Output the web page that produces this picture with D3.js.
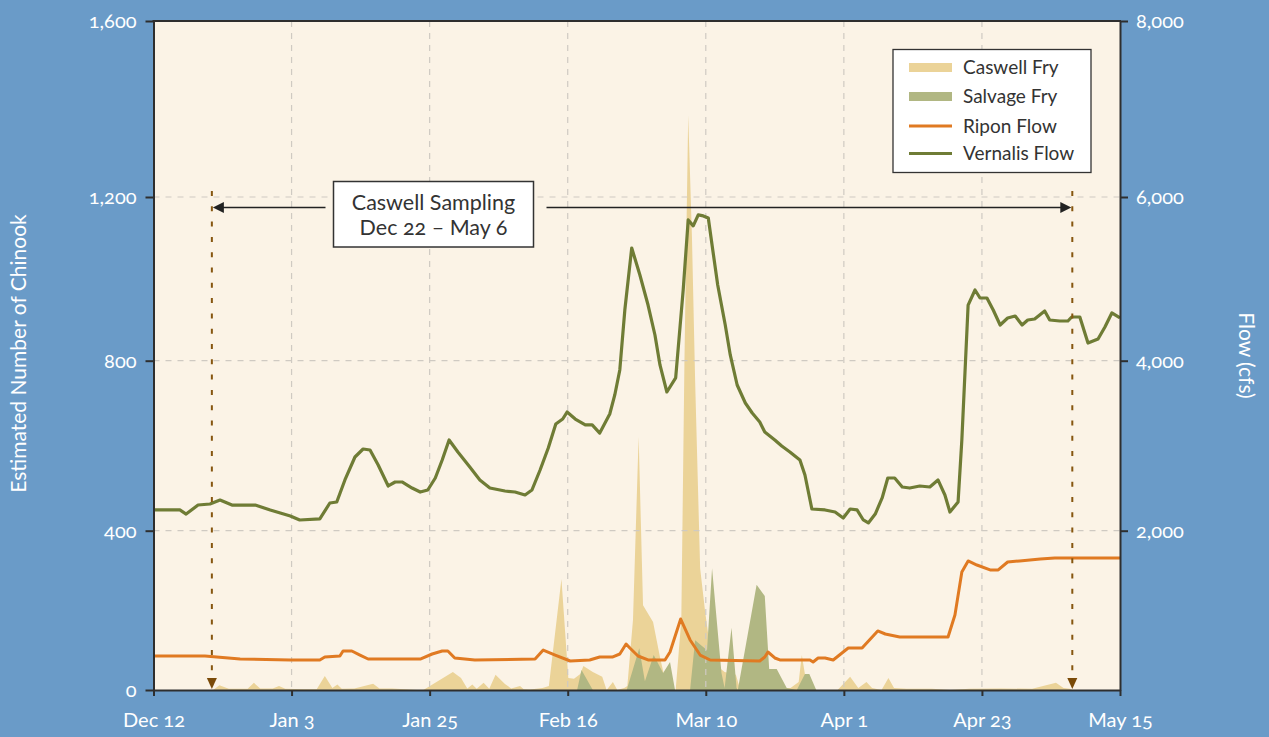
<!DOCTYPE html>
<html>
<head>
<meta charset="utf-8">
<script src="https://cdn.jsdelivr.net/npm/d3@7"></script>
<style>
  body { margin: 0; background: #6a9bc8; }
  svg { display: block; }
  text { font-family: "Lato", "Open Sans", sans-serif; font-variant-numeric: oldstyle-nums; }
</style>
</head>
<body>
<svg id="chart" width="1269" height="737"></svg>
<script>
// ---- data (days counted from Dec 12) ----
const tickDays   = [0, 22, 44, 66, 88, 110, 132, 154];
const tickLabels = ["Dec 12", "Jan 3", "Jan 25", "Feb 16", "Mar 10", "Apr 1", "Apr 23", "May 15"];
const countTicks = [0, 400, 800, 1200, 1600];
const flowTicks  = [0, 2000, 4000, 6000, 8000];

// Caswell fry (estimated number of Chinook)
const caswellDay = [9.5, 10.5, 12, 15, 16, 17, 19, 20, 21, 24, 26, 27.3, 28.5, 29.3, 30, 32, 35, 36, 38, 40, 42, 43,
  47.7, 49, 50, 50.8, 51.5, 52.6, 53.5, 54.5, 56, 57, 58.4, 59, 60, 62, 63, 65, 66.1, 67, 68, 68.5, 70, 71.5, 72.2,
  73.2, 73.9, 75, 75.5, 76.4, 77.3, 78, 79.6, 80.7, 81.4, 82.7, 83.2, 84.1, 84.6, 85.2, 85.8, 86.3, 87.1, 87.9,
  88.8, 89.8, 91, 92.8, 93.5, 94.5, 101.5, 102.8, 103.3, 104, 104.6, 109, 111, 112.3, 113.6, 114.5, 116, 117.1,
  118, 120, 124, 127, 130, 135, 140, 143.8, 145, 146, 146.4];
const caswellFry = [0, 12, 3, 3, 18, 4, 4, 10, 3, 2, 2, 35, 5, 14, 3, 4, 16, 4, 4, 2, 0, 0,
  45, 30, 4, 14, 3, 18, 3, 38, 15, 4, 10, 2, 1, 5, 10, 279, 30, 28, 40, 60, 45, 33, 0,
  20, 0, 5, 10, 176, 621, 213, 171, 83, 33, 0, 0, 176, 800, 1386, 1100, 754, 306, 196,
  93, 60, 45, 38, 0, 5, 5, 20, 88, 20, 0, 0, 33, 5, 20, 5, 0, 30,
  5, 3, 3, 0, 3, 4, 3, 18, 5, 3, 0];

// Salvage fry (estimated number of Chinook)
const salvageDay = [67.5, 68.2, 70, 75.4, 77.4, 78.3, 79.7, 81.2, 82.3, 83.1, 85.5, 86.3, 88.2, 89, 90.5, 91,
  92.1, 92.9, 93.1, 96.1, 97.4, 98.1, 99.3, 100.9, 102.5, 103.8, 104.5, 105.6];
const salvageFry = [0, 50, 0, 0, 105, 22, 88, 43, 70, 0, 0, 125, 100, 306, 43, 5,
  156, 5, 0, 264, 236, 53, 53, 5, 0, 40, 40, 0];

// Ripon flow (cfs)
const riponDay = [0, 8.2, 13.8, 21.8, 26.5, 27.3, 29.7, 30.2, 31.6, 32.9, 34.2, 42.5, 44.4, 46, 46.9, 48, 51.2,
  60.8, 62.1, 64, 66.4, 69.5, 71.1, 73.1, 74.3, 75.3, 75.9, 77.2, 78.8, 81.5, 82.3, 84, 85.5, 87.1, 88.7,
  96.6, 97.4, 97.9, 99, 99.8, 104.6, 105.1, 105.9, 107, 108.3, 110.7, 112.9, 115.4, 116.6, 118.9, 126.6,
  127.7, 128.8, 129.8, 131.2, 133.3, 134.6, 136.1, 138, 141.3, 143.6, 154];
const riponFlow = [427, 427, 389, 377, 377, 414, 427, 490, 490, 439, 389, 389, 452, 490, 490, 402, 377,
  389, 502, 439, 364, 377, 414, 414, 452, 578, 527, 427, 377, 377, 477, 891, 628, 439, 377,
  364, 414, 477, 402, 377, 377, 352, 402, 402, 377, 527, 527, 741, 703, 665, 665,
  942, 1481, 1620, 1569, 1507, 1507, 1607, 1620, 1645, 1657, 1657];

// Vernalis flow (cfs)
const vernalisDay = [0, 4.2, 5.2, 7.1, 9, 10.6, 12.5, 16.2, 18.6, 21.8, 23.3, 26.5, 28.1, 29.2, 30.5, 32.1, 33.4,
  34.5, 35.8, 37.4, 38.5, 39.6, 41.2, 42.5, 43.7, 44.9, 46, 47.1, 48.5, 50.4, 52, 53.6, 56, 57.6, 59.2, 60.3,
  61.6, 62.9, 64.1, 65.2, 65.9, 67.2, 68.8, 69.9, 71.1, 72.7, 73.5, 74.3, 75.1, 76.2, 77.5, 78.8, 79.9, 80.7,
  81.8, 83.2, 84.4, 85.2, 86, 86.8, 87.6, 88.4, 89, 89.9, 91.1, 91.9, 93, 94.3, 95.4, 96.6, 97.4, 99, 100.1,
  101.4, 103, 103.8, 104.9, 107, 108.6, 109.9, 111, 112.1, 113.1, 113.9, 115, 116.1, 117, 118.1, 119.3, 120.5,
  122.1, 123.7, 125, 126.1, 126.9, 128.2, 128.8, 129.8, 130.9, 131.7, 132.8, 133.8, 134.9, 136.1, 137.3,
  138.4, 139.3, 140.4, 142, 142.8, 144.4, 145.7, 146.3, 147.6, 148.9, 150.5, 151.6, 152.7, 154];
const vernalisFlow = [2244, 2244, 2196, 2302, 2314, 2361, 2302, 2302, 2244, 2173, 2126, 2138, 2326, 2338, 2597, 2867, 2961,
  2949, 2773, 2526, 2573, 2573, 2502, 2455, 2479, 2620, 2832, 3067, 2926, 2749, 2597, 2502, 2467, 2455, 2420, 2479,
  2714, 2973, 3255, 3314, 3396, 3314, 3244, 3244, 3149, 3373, 3597, 3891, 4619, 5377, 5047, 4680, 4314, 3950,
  3632, 3797, 4865, 5720, 5647, 5781, 5769, 5744, 5414, 4925, 4436, 4070, 3714, 3502, 3385, 3279, 3161, 3067, 2996,
  2926, 2832, 2655, 2255, 2244, 2220, 2149, 2255, 2244, 2126, 2091, 2196, 2385, 2620, 2620, 2514, 2502,
  2526, 2514, 2597, 2420, 2220, 2338, 3067, 4680, 4864, 4766, 4766, 4619, 4436, 4522, 4546,
  4436, 4497, 4509, 4607, 4497, 4485, 4485, 4534, 4534, 4216, 4265, 4412, 4583, 4522];

// Caswell sampling window (days from Dec 12)
const samplingDays  = [9.3, 146.4];
const samplingLabel = ["Caswell Sampling", "Dec 22 \u2013 May 6"];

const seriesNames  = ["Caswell Fry", "Salvage Fry", "Ripon Flow", "Vernalis Flow"];
const seriesColors = ["#ebd398", "#b1b783", "#e07a22", "#6f7c35"];

// ---- layout ----
const svg = d3.select("#chart");
const plot = { left: 153.5, right: 1120, top: 21, bottom: 690 };
const textColor = "#ffffff";

const x = d3.scaleLinear().domain([0, 154]).range([plot.left, plot.right]);
const yCount = d3.scaleLinear().domain(countTicks).range([690, 530.7, 360.7, 197, 21]);
const yFlow  = d3.scaleLinear().domain(flowTicks).range([690, 530.7, 360.7, 197, 21]);

svg.append("rect")
  .attr("x", plot.left).attr("y", plot.top)
  .attr("width", plot.right - plot.left).attr("height", plot.bottom - plot.top)
  .attr("fill", "#fbf3e6");

// fry areas
const zip = (a, b) => a.map((d, i) => [d, b[i]]);
const area = d3.area().x(d => x(d[0])).y0(yCount(0)).y1(d => yCount(d[1]));
svg.append("path").datum(zip(caswellDay, caswellFry)).attr("d", area).attr("fill", seriesColors[0]);
svg.append("path").datum(zip(salvageDay, salvageFry)).attr("d", area).attr("fill", seriesColors[1]);

// grid
const grid = svg.append("g").attr("stroke", "#cfcac2").attr("stroke-width", 1.2).attr("stroke-dasharray", "6,6");
grid.selectAll("line.v").data(tickDays.slice(1, -1)).join("line")
  .attr("x1", d => x(d)).attr("x2", d => x(d)).attr("y1", plot.top).attr("y2", plot.bottom);
grid.selectAll("line.h").data(countTicks.slice(1, -1)).join("line")
  .attr("x1", plot.left).attr("x2", plot.right).attr("y1", d => yCount(d)).attr("y2", d => yCount(d));

// flow lines
const flowLine = d3.line().x(d => x(d[0])).y(d => yFlow(d[1]));
svg.append("path").datum(zip(riponDay, riponFlow)).attr("d", flowLine)
  .attr("fill", "none").attr("stroke", seriesColors[2]).attr("stroke-width", 3).attr("stroke-linejoin", "round");
svg.append("path").datum(zip(vernalisDay, vernalisFlow)).attr("d", flowLine)
  .attr("fill", "none").attr("stroke", seriesColors[3]).attr("stroke-width", 3.2).attr("stroke-linejoin", "round");

// sampling window markers
const brown = "#86560f";
samplingDays.forEach(d => {
  const px = x(d);
  svg.append("line").attr("x1", px).attr("x2", px).attr("y1", 191).attr("y2", 676)
    .attr("stroke", brown).attr("stroke-width", 2).attr("stroke-dasharray", "5,10.3");
  svg.append("path").attr("d", `M${px - 5},678 L${px + 5},678 L${px},689 Z`).attr("fill", "#7a4a08");
});

const arrowY = 207.5;
const xa = x(samplingDays[0]), xb = x(samplingDays[1]);
const boxX0 = 333.5, boxX1 = 533.5;
svg.append("line").attr("x1", xa + 10).attr("x2", boxX0 - 8).attr("y1", arrowY).attr("y2", arrowY)
  .attr("stroke", "#222").attr("stroke-width", 1.5);
svg.append("line").attr("x1", boxX1 + 13).attr("x2", xb - 10).attr("y1", arrowY).attr("y2", arrowY)
  .attr("stroke", "#222").attr("stroke-width", 1.5);
svg.append("path").attr("d", `M${xa + 1},${arrowY} L${xa + 12},${arrowY - 5.5} L${xa + 12},${arrowY + 5.5} Z`).attr("fill", "#222");
svg.append("path").attr("d", `M${xb - 1},${arrowY} L${xb - 12},${arrowY - 5.5} L${xb - 12},${arrowY + 5.5} Z`).attr("fill", "#222");

svg.append("rect").attr("x", boxX0).attr("y", 181.5).attr("width", boxX1 - boxX0).attr("height", 65.5)
  .attr("fill", "#ffffff").attr("stroke", "#333").attr("stroke-width", 1.5);
svg.append("text").attr("x", (boxX0 + boxX1) / 2).attr("text-anchor", "middle")
  .attr("font-size", 21.5).attr("fill", "#333")
  .selectAll("tspan").data(samplingLabel).join("tspan")
  .attr("x", (boxX0 + boxX1) / 2).attr("y", (d, i) => 209.5 + i * 25).text(d => d);

// axes
function styleAxis(g) {
  g.select(".domain").attr("stroke", "#2e2e2e").attr("stroke-width", 2);
  g.selectAll(".tick line").attr("stroke", "#2e2e2e").attr("stroke-width", 2);
  g.selectAll(".tick text").attr("fill", textColor).attr("font-size", 20);
}
svg.append("g").attr("transform", `translate(${plot.left},0)`)
  .call(d3.axisLeft(yCount).tickValues(countTicks).tickFormat(d3.format(",")).tickSizeInner(8).tickSizeOuter(0).tickPadding(9))
  .call(styleAxis);
svg.append("g").attr("transform", `translate(${plot.right},0)`)
  .call(d3.axisRight(yFlow).tickValues(flowTicks.slice(1)).tickFormat(d3.format(",")).tickSizeInner(8).tickSizeOuter(0).tickPadding(8))
  .call(styleAxis);
svg.append("g").attr("transform", `translate(0,${plot.bottom})`)
  .call(d3.axisBottom(x).tickValues(tickDays).tickFormat((d, i) => tickLabels[i]).tickSizeInner(6).tickSizeOuter(0).tickPadding(17))
  .call(styleAxis);
svg.append("line").attr("x1", plot.left - 1).attr("x2", plot.right + 1).attr("y1", plot.top).attr("y2", plot.top)
  .attr("stroke", "#2e2e2e").attr("stroke-width", 2);

// axis titles
svg.append("text").attr("transform", `translate(26,${(plot.top + plot.bottom) / 2 - 2}) rotate(-90)`)
  .attr("text-anchor", "middle").attr("font-size", 21).attr("fill", textColor)
  .text("Estimated Number of Chinook");
svg.append("text").attr("transform", `translate(1239,${(plot.top + plot.bottom) / 2}) rotate(90)`)
  .attr("text-anchor", "middle").attr("font-size", 21).attr("fill", textColor)
  .text("Flow (cfs)");

// legend
const legend = svg.append("g");
legend.append("rect").attr("x", 893).attr("y", 49.5).attr("width", 198).attr("height", 123)
  .attr("fill", "#ffffff").attr("stroke", "#333").attr("stroke-width", 1.3);
const legendY = [67.5, 96.5, 126, 153.5];
seriesNames.forEach((name, i) => {
  if (i < 2) {
    legend.append("rect").attr("x", 909).attr("y", legendY[i] - 4.5).attr("width", 43).attr("height", 9)
      .attr("fill", seriesColors[i]);
  } else {
    legend.append("line").attr("x1", 909).attr("x2", 952).attr("y1", legendY[i]).attr("y2", legendY[i])
      .attr("stroke", seriesColors[i]).attr("stroke-width", 3);
  }
  legend.append("text").attr("x", 963).attr("y", legendY[i]).attr("dy", "0.35em")
    .attr("font-size", 19).attr("fill", "#333").text(name);
});
</script>
</body>
</html>
